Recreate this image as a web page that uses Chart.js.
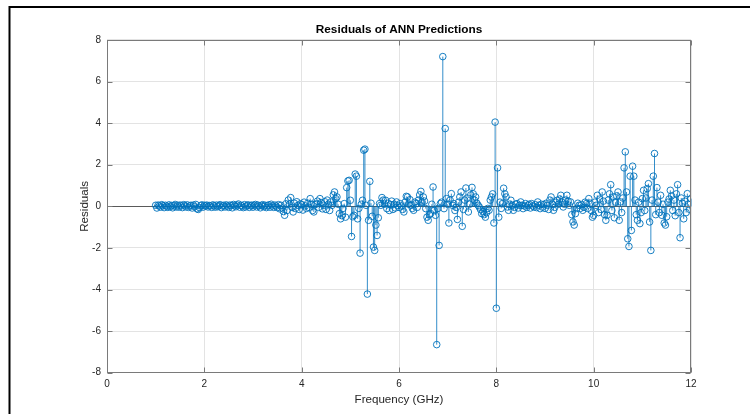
<!DOCTYPE html>
<html>
<head>
<meta charset="utf-8">
<script src="https://cdn.jsdelivr.net/npm/chart.js@4.4.1/dist/chart.umd.min.js"></script>
<style>
  html, body { margin: 0; padding: 0; background: #fff; }
  canvas { display: block; }
</style>
</head>
<body>
<canvas id="c" width="750" height="414"></canvas>
<script>
// ---- data ----
const chartTitle = 'Residuals of ANN Predictions';
const xAxisLabel = 'Frequency (GHz)';
const yAxisLabel = 'Residuals';
const xTicks = [0, 2, 4, 6, 8, 10, 12];
const yTicks = [-8, -6, -4, -2, 0, 2, 4, 6, 8];
// sample grid of the test frequencies (GHz)
const freqStart = 1.0;
const freqStep = 0.025;
// residual values, one row per 0.5 GHz
const residuals = [
  // 1.0 - 1.475
  0.05, -0.08, 0.06, 0.02, -0.04, 0.08, 0.03, -0.06, 0.05, 0.01, -0.05, 0.07, -0.02, 0.04, -0.07, 0.03, 0.09, -0.03, 0.05, -0.04,
  // 1.5 - 1.975
  0.06, 0.02, -0.06, 0.08, 0.04, -0.03, 0.07, -0.05, 0.02, 0.05, -0.08, 0.06, -0.02, 0.09, -0.12, -0.15, -0.06, 0.03, 0.07, -0.04,
  // 2.0 - 2.475
  0.05, 0.01, 0.06, -0.03, 0.04, 0.02, -0.05, 0.07, 0.03, -0.04, 0.06, -0.02, 0.04, 0.08, -0.06, 0.02, 0.05, -0.03, 0.07, 0.01,
  // 2.5 - 2.975
  -0.05, 0.06, 0.03, -0.07, 0.09, 0.04, -0.02, 0.06, 0.11, -0.04, 0.05, 0.02, -0.06, 0.08, -0.03, 0.04, 0.07, -0.05, 0.03, 0.06,
  // 3.0 - 3.475
  -0.04, 0.05, 0.09, -0.03, 0.06, 0.02, -0.07, 0.04, 0.08, -0.02, 0.05, -0.06, 0.03, 0.07, -0.04, 0.10, 0.02, -0.05, 0.06, 0.01,
  // 3.5 - 3.975
  -0.06, 0.08, -0.12, 0.05, -0.08, -0.25, -0.43, 0.12, -0.20, 0.30, 0.10, 0.42, -0.05, -0.27, 0.15, -0.10, 0.22, 0.05, -0.15, 0.12,
  // 4.0 - 4.475
  0.08, -0.18, 0.20, 0.02, -0.10, 0.15, -0.05, 0.37, 0.10, -0.20, -0.27, 0.08, 0.12, 0.25, -0.05, 0.37, 0.18, -0.12, 0.05, 0.22,
  // 4.5 - 4.975
  -0.15, 0.30, 0.10, -0.20, 0.21, 0.05, 0.55, 0.69, 0.37, 0.45, 0.10, -0.35, -0.60, -0.45, -0.10, 0.13, -0.52, 0.90, 1.22, 1.25,
  // 5.0 - 5.475
  0.29, -1.45, -0.50, -0.43, 1.55, 1.45, -0.60, -0.10, -2.25, 0.10, 0.29, 2.70, 2.75, 0.05, -4.22, -0.67, 1.20, 0.15, -0.48, -1.96,
  // 5.5 - 5.975
  -2.12, -0.90, -1.40, -0.55, 0.13, 0.05, 0.42, 0.30, 0.10, 0.29, -0.11, 0.15, -0.20, 0.08, 0.25, -0.15, 0.10, -0.08, 0.21, 0.05,
  // 6.0 - 6.475
  -0.05, 0.13, 0.02, -0.15, -0.27, 0.20, 0.48, 0.45, 0.10, 0.32, 0.05, -0.10, -0.19, 0.20, 0.13, -0.05, 0.30, 0.55, 0.72, 0.20,
  // 6.5 - 6.975
  0.45, 0.25, -0.11, -0.52, -0.67, -0.40, -0.35, 0.10, 0.93, -0.20, -0.43, -6.65, -0.10, -1.88, 0.13, 0.20, 7.20, -0.11, 3.74, 0.37,
  // 7.0 - 7.475
  0.10, -0.80, 0.30, 0.61, 0.05, 0.13, -0.20, -0.05, -0.63, 0.20, 0.45, 0.69, -0.96, -0.15, 0.30, 0.88, 0.40, -0.27, 0.10, 0.55,
  // 7.5 - 7.975
  0.91, 0.60, 0.30, 0.45, 0.15, 0.05, -0.03, -0.15, -0.35, -0.25, -0.40, -0.52, -0.30, -0.10, -0.19, 0.30, 0.45, 0.60, -0.80, 4.05,
  // 8.0 - 8.475
  -4.90, 1.85, -0.52, 0.20, -0.10, 0.13, 0.87, 0.60, 0.45, -0.03, -0.19, 0.10, 0.29, 0.05, -0.19, -0.05, 0.10, 0.13, -0.08, 0.05,
  // 8.5 - 8.975
  0.21, 0.05, -0.11, 0.02, 0.13, -0.05, 0.05, 0.10, -0.08, 0.13, 0.02, -0.03, 0.08, -0.06, 0.21, 0.05, -0.11, 0.10, -0.04, 0.08,
  // 9.0 - 9.475
  -0.10, 0.15, 0.05, -0.15, 0.30, 0.45, 0.10, -0.19, -0.05, 0.20, 0.29, 0.10, 0.35, 0.53, 0.20, -0.03, 0.10, 0.30, 0.53, 0.25,
  // 9.5 - 9.975
  0.05, 0.21, -0.40, -0.75, -0.90, -0.35, -0.10, 0.15, 0.05, -0.10, 0.08, -0.19, -0.05, 0.20, 0.13, -0.10, 0.37, 0.15, -0.20, -0.52,
  // 10.0 - 10.475
  -0.43, 0.20, 0.05, 0.53, -0.30, 0.35, -0.15, 0.69, 0.25, -0.40, -0.67, -0.43, 0.30, 0.60, 1.04, -0.20, 0.45, -0.55, 0.20, 0.50,
  // 10.5 - 10.975
  0.69, -0.67, 0.21, -0.30, 0.40, 1.85, 2.62, 0.69, -1.56, -1.93, 1.45, -1.16, 1.93, 1.45, 0.30, -0.40, -0.67, 0.20, -0.83, -0.30,
  // 11.0 - 11.475
  0.37, 0.77, -0.20, 0.40, 0.85, 1.09, -0.75, -2.12, 0.30, 1.45, 2.54, -0.40, 0.90, 0.20, -0.30, 0.53, -0.43, 0.10, -0.80, -0.90,
  // 11.5 - 12.0
  -0.50, 0.20, 0.35, 0.77, 0.50, -0.20, 0.30, -0.45, 0.60, 1.04, -0.30, -1.51, 0.40, 0.15, -0.60, 0.25, -0.30, 0.61, 0.10, -0.15, 0.37
];

const points = residuals.map((r, i) => ({ x: +(freqStart + i * freqStep).toFixed(3), y: r }));

// ---- style ----
const FONT = 'Liberation Sans, Arial, Helvetica, sans-serif';
const STEM_BLUE = '#0072BD';
const AXIS_GRAY = '#7a7a7a';
const TEXT_GRAY = '#262626';

const matlabLook = {
  id: 'matlabLook',
  beforeDraw(chart) {
    const ctx = chart.ctx;
    ctx.save();
    ctx.fillStyle = '#ffffff';
    ctx.fillRect(0, 0, chart.width, chart.height);
    // outer figure frame (left & top edges visible)
    ctx.strokeStyle = '#000';
    ctx.lineWidth = 2;
    ctx.beginPath();
    ctx.moveTo(9.5, chart.height + 5);
    ctx.lineTo(9.5, 7);
    ctx.lineTo(chart.width + 5, 7);
    ctx.stroke();
    ctx.restore();
  },
  beforeDatasetsDraw(chart) {
    const ctx = chart.ctx;
    const xs = chart.scales.x, ys = chart.scales.y;
    const y0 = Math.round(ys.getPixelForValue(0)) + 0.5;
    ctx.save();
    // baseline
    ctx.strokeStyle = '#5a5a5a';
    ctx.lineWidth = 1;
    ctx.beginPath();
    ctx.moveTo(xs.left, y0);
    ctx.lineTo(xs.right, y0);
    ctx.stroke();
    // stems
    ctx.strokeStyle = 'rgba(0,114,189,0.8)';
    ctx.lineWidth = 1;
    const meta = chart.getDatasetMeta(0);
    meta.data.forEach(pt => {
      ctx.beginPath();
      ctx.moveTo(pt.x, y0);
      ctx.lineTo(pt.x, pt.y);
      ctx.stroke();
    });
    ctx.restore();
  },
  afterDraw(chart) {
    const ctx = chart.ctx;
    const a = chart.chartArea;
    const xs = chart.scales.x, ys = chart.scales.y;
    const L = Math.round(a.left) + 0.5, R = Math.round(a.right) - 0.5;
    const T = Math.round(a.top) + 0.5, B = Math.round(a.bottom) - 0.5;
    ctx.save();
    ctx.strokeStyle = AXIS_GRAY;
    ctx.lineWidth = 1;
    ctx.strokeRect(L, T, R - L, B - T);
    const tl = 5;
    ctx.beginPath();
    xs.ticks.forEach(t => {
      const x = Math.round(xs.getPixelForValue(t.value)) + 0.5;
      ctx.moveTo(x, B); ctx.lineTo(x, B - tl);
      ctx.moveTo(x, T); ctx.lineTo(x, T + tl);
    });
    ys.ticks.forEach(t => {
      const y = Math.round(ys.getPixelForValue(t.value)) + 0.5;
      ctx.moveTo(L, y); ctx.lineTo(L + tl, y);
      ctx.moveTo(R, y); ctx.lineTo(R - tl, y);
    });
    ctx.stroke();
    ctx.restore();
  }
};

new Chart(document.getElementById('c'), {
  type: 'scatter',
  data: {
    datasets: [{
      label: 'Residuals',
      data: points,
      pointStyle: 'circle',
      pointRadius: 3.3,
      pointBorderWidth: 1,
      pointBorderColor: 'rgba(0,114,189,0.9)',
      pointBackgroundColor: 'rgba(0,0,0,0)',
      showLine: false
    }]
  },
  options: {
    responsive: false,
    animation: false,
    devicePixelRatio: 1,
    layout: { padding: { left: 0, right: 59, top: 0, bottom: 0 } },
    plugins: {
      legend: { display: false },
      tooltip: { enabled: false },
      title: {
        display: true,
        text: chartTitle,
        fullSize: false,
        color: '#000',
        font: { family: FONT, size: 11.8, weight: 'bold' },
        padding: { top: 22.5, bottom: 3.3 }
      }
    },
    scales: {
      x: {
        type: 'linear',
        min: 0, max: 12,
        afterBuildTicks(s) { s.ticks = xTicks.map(v => ({ value: v })); },
        ticks: { color: TEXT_GRAY, font: { family: FONT, size: 10 }, padding: 6, maxRotation: 0 },
        grid: { color: '#e3e3e3', drawTicks: false },
        border: { display: false },
        title: { display: true, text: xAxisLabel, color: TEXT_GRAY, font: { family: FONT, size: 11.6 }, padding: { top: 0, bottom: 7.0 } },
        afterFit(s) { s.height = 41.3; }
      },
      y: {
        min: -8, max: 8,
        afterBuildTicks(s) { s.ticks = yTicks.map(v => ({ value: v })); },
        ticks: { color: TEXT_GRAY, font: { family: FONT, size: 10 }, padding: 6 },
        grid: { color: '#e3e3e3', drawTicks: false },
        border: { display: false },
        title: { display: true, text: yAxisLabel, color: TEXT_GRAY, font: { family: FONT, size: 11.6 }, padding: { top: 78, bottom: 0 } },
        afterFit(s) { s.width = 107; }
      }
    }
  },
  plugins: [matlabLook]
});
</script>
</body>
</html>
